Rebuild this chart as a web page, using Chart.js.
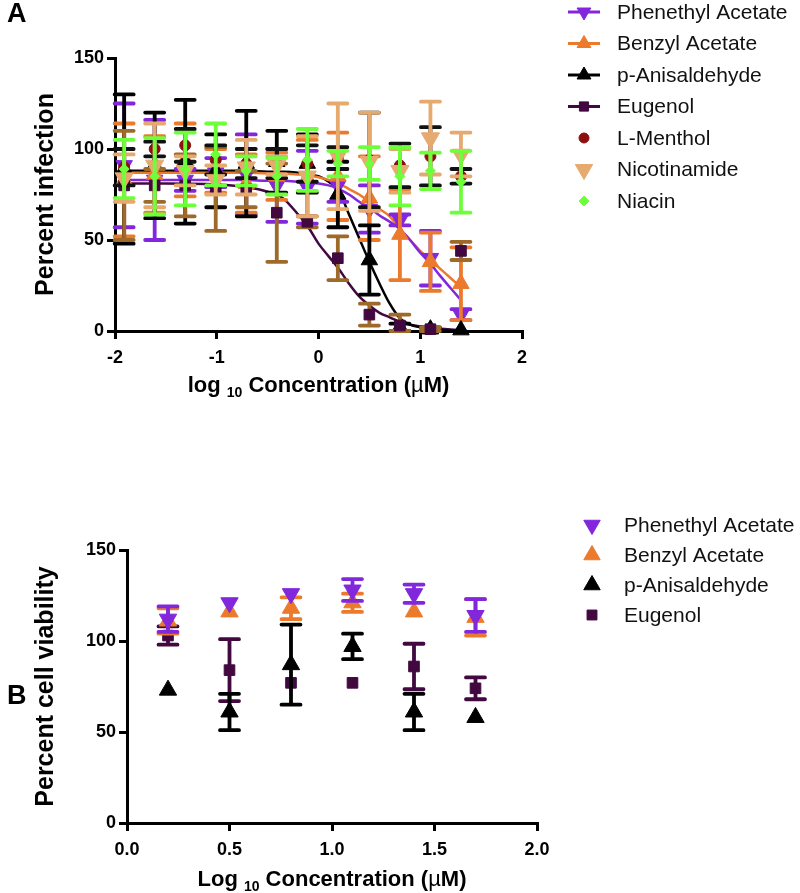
<!DOCTYPE html>
<html>
<head>
<meta charset="utf-8">
<script src="https://cdn.jsdelivr.net/npm/chart.js@4.4.1/dist/chart.umd.min.js"></script>
<style>
  html, body { margin: 0; padding: 0; background: #fff; }
  #wrap { position: relative; width: 800px; height: 893px; overflow: hidden; }
  #chartA { position: absolute; left: 0; top: 0; }
  #chartB { position: absolute; left: 0; top: 480px; }
</style>
</head>
<body>
<div id="wrap">
  <canvas id="chartA" width="800" height="400"></canvas>
  <canvas id="chartB" width="800" height="413"></canvas>
</div>
<script>
// ---- Panel A : percent infection (mean / SD) ----
const logConcA = [-1.91, -1.61, -1.31, -1.01, -0.71, -0.41, -0.11, 0.19, 0.50, 0.80, 1.10, 1.40];

const phenethylA    = [91, 83, 83, 87, 86, 80, 79, 80, 67, 61, 40, 9];
const phenethylErrA = [34, 33, 6, 8, 22, 20, 20, 9, 13, 3, 15, 3];
const benzylA       = [83, 86, 94, 88, 81, 85, 84, 85, 73, 53, 38, 26];
const benzylErrA    = [31, 21, 20, 12, 16, 13, 21, 24, 23, 25, 16, 20];
const anisA         = [89, 91, 93, 88, 92, 93, 92, 75, 39, 2, 1, 0.5];
const anisErrA      = [41, 29, 34, 20, 29, 17, 16, 18, 19, 2, 1, 0];
const eugenolA      = [80, 80, 80, 78, 78, 65, 60, 40, 9, 3, 1, 44];
const eugenolErrA   = [30, 9, 17, 23, 10, 27, 3, 12, 6, 6, 1, 5];
const mentholA      = [90, 100, 102, 94, 92, 92, 92, 95, 94, 91, 96, 85];
const mentholErrA   = [10, 4, 9, 8, 8, 8, 10, 6, 26, 12, 16, 4];
const nicotinA      = [84, 91, 88, 83, 90, 91, 85, 96, 93, 88, 106, 97];
const nicotinErrA   = [13, 23, 8, 8, 15, 5, 22, 29, 27, 12, 20, 12];
const niacinA       = [89, 85, 89, 97, 88, 85, 94, 92, 92, 85, 88, 82];
const niacinErrA    = [16, 21, 20, 17, 8, 10, 17, 7, 9, 16, 10, 17];

// fitted dose-response curves
const fitX         = [-1.91, -1.5, -1.0, -0.7, -0.5, -0.35, -0.2, -0.1, 0, 0.1, 0.2, 0.3, 0.4, 0.5, 0.6, 0.7, 0.8, 0.9, 1.0, 1.1, 1.2, 1.3, 1.4];
const phenethylFit = [83, 83, 83, 83, 82.5, 82.5, 82, 81.5, 81, 80, 78, 75, 71, 67.5, 63.5, 60, 56, 50, 43, 37, 30, 23.5, 17];
const benzylFit    = [87, 87, 87, 87, 86.5, 86.5, 86, 85.5, 84.5, 83, 81, 78, 75, 71, 67, 63, 56, 50, 44, 39, 34, 29, 24];
const anisFit      = [88, 88, 88, 88, 87.5, 87.5, 87, 86, 85, 82, 77, 64, 51, 38, 26, 15, 7, 3.5, 2, 1, 0.5, 0.2, 0.1];
const eugenolFit   = [81, 81, 80.5, 79, 76.5, 73, 64, 57, 48, 41, 34, 26, 19, 14, 10, 7.5, 5, 3.5, 2.5, 1.8, 1.2, 0.8, 0.5];

// ---- Panel B : percent cell viability ----
const logConcB      = [0.20, 0.50, 0.80, 1.10, 1.40, 1.70];
const phenethylB    = [112, 121, 126, 128, 126, 114];
const phenethylErrB = [7, 0, 0, 6, 5, 9];
const benzylB       = [111, 116, 118, 121, 116, 113];
const benzylErrB    = [7, 0, 6, 5, 0, 10];
const anisB         = [73, 61, 87, 97, 61, 58];
const anisErrB      = [0, 10, 22, 7, 10, 0];
const eugenolB      = [103, 84, 77, 77, 86, 74];
const eugenolErrB   = [5, 17, 0, 0, 12.5, 6];

const FONT = '"Liberation Sans", Arial, sans-serif';
const PURPLE = '#8227dc', ORANGE = '#ec7a2c', BLACK = '#000000', EUG = '#41093f',
      BROWN = '#9d6a2a', MENTHOL = '#8b1111', TAN = '#e6a96e', GREEN = '#6cff3a';

function pts(xs, ys, errs) {
  return xs.map((x, i) => ({ x: x, y: ys[i], err: errs ? errs[i] : 0 }));
}

function series(label, xs, ys, errs, color, errColor, style, rot, r, legendR, hasFit) {
  return {
    label: label,
    data: pts(xs, ys, errs),
    pointStyle: style,
    rotation: rot,
    pointRadius: r,
    pointBackgroundColor: color,
    pointBorderColor: color,
    pointBorderWidth: 1,
    showLine: false,
    clip: false,
    errorColor: errColor,
    legendRadius: legendR,
    hasFit: hasFit
  };
}

function fitLine(color, ys) {
  return {
    isFit: true,
    data: pts(fitX, ys),
    showLine: true,
    pointRadius: 0,
    borderColor: color,
    borderWidth: 2.5,
    cubicInterpolationMode: 'monotone',
    order: 20
  };
}

// error bars, drawn just before each dataset's markers
const errorBars = {
  id: 'errorBars',
  beforeDatasetDraw(chart, args) {
    const ds = chart.data.datasets[args.index];
    if (!ds.errorColor) return;
    const ys = chart.scales.y;
    const ctx = chart.ctx;
    ctx.save();
    ctx.strokeStyle = ds.errorColor;
    ctx.lineWidth = 3.8;
    ctx.lineCap = 'round';
    args.meta.data.forEach((p, i) => {
      const d = ds.data[i];
      if (!d.err) return;
      const top = ys.getPixelForValue(d.y + d.err);
      const bot = ys.getPixelForValue(Math.max(d.y - d.err, 0));
      const cap = 9.5;
      ctx.beginPath();
      ctx.moveTo(p.x, top); ctx.lineTo(p.x, bot);
      ctx.moveTo(p.x - cap, top); ctx.lineTo(p.x + cap, top);
      ctx.moveTo(p.x - cap, bot); ctx.lineTo(p.x + cap, bot);
      ctx.stroke();
    });
    ctx.restore();
  }
};

// panel letter, x title with subscript, legend
const decorations = {
  id: 'decorations',
  afterDraw(chart, args, o) {
    const ctx = chart.ctx;
    const area = chart.chartArea;
    ctx.save();
    ctx.fillStyle = '#000';
    ctx.textBaseline = 'middle';
    ctx.textAlign = 'left';
    ctx.font = 'bold 27px ' + FONT;
    ctx.fillText(o.letter, 7, o.letterY);

    // x axis title: "log 10 Concentration (µM)" with subscript
    const parts = [
      [o.logWord + ' ', 'bold 22px ' + FONT, 0],
      ['10', 'bold 14px ' + FONT, 7],
      [' Concentration (', 'bold 22px ' + FONT, 0],
      ['\u00b5', '22px ' + FONT, 0],
      ['M)', 'bold 22px ' + FONT, 0]
    ];
    let w = 0;
    parts.forEach(p => { ctx.font = p[1]; w += ctx.measureText(p[0]).width; });
    let x = (area.left + area.right) / 2 - w / 2;
    parts.forEach(p => {
      ctx.font = p[1];
      ctx.fillText(p[0], x, o.titleY + p[2]);
      x += ctx.measureText(p[0]).width;
    });

    // legend
    const items = chart.data.datasets.filter(d => !d.isFit);
    items.forEach((d, i) => {
      const y = o.legendTop + i * o.legendStep;
      if (d.hasFit) {
        ctx.strokeStyle = d.pointBackgroundColor;
        ctx.lineWidth = 3;
        ctx.beginPath();
        ctx.moveTo(o.legendX - 16, y);
        ctx.lineTo(o.legendX + 16, y);
        ctx.stroke();
      }
      ctx.fillStyle = d.pointBackgroundColor;
      ctx.strokeStyle = d.pointBorderColor;
      ctx.lineWidth = 1;
      Chart.helpers.drawPoint(ctx, {
        pointStyle: d.pointStyle, rotation: d.rotation || 0,
        radius: d.legendRadius, borderWidth: 1
      }, o.legendX, y);
      ctx.fillStyle = '#111';
      ctx.font = '21px ' + FONT;
      ctx.fillText(d.label, o.textX, y + 1);
    });
    ctx.restore();
  }
};

function axes(xMin, xMax, xStep, xFmt, yTitle, yWidth, xHeight) {
  const tickFont = { family: FONT, size: 18, weight: 'bold' };
  const grid = { drawOnChartArea: false, drawTicks: true, tickLength: 8, lineWidth: 3, color: '#000' };
  const border = { display: true, color: '#000', width: 3 };
  return {
    x: {
      type: 'linear', min: xMin, max: xMax,
      ticks: { stepSize: xStep, color: '#000', font: tickFont, padding: 8, callback: xFmt, maxRotation: 0 },
      grid: grid, border: border,
      afterFit(s) { s.height = xHeight; }
    },
    y: {
      type: 'linear', min: 0, max: 150,
      ticks: { stepSize: 50, color: '#000', font: tickFont, padding: 3 },
      grid: grid, border: border,
      title: { display: true, text: yTitle, color: '#000', font: { family: FONT, size: 25, weight: 'bold' }, padding: { top: 31, bottom: 0 } },
      afterFit(s) { s.width = yWidth; }
    }
  };
}

// ---- chart A ----
const dsA = [
  series('Phenethyl Acetate', logConcA, phenethylA, phenethylErrA, PURPLE, PURPLE, 'triangle', 180, 9.5, 8, true),
  series('Benzyl Acetate', logConcA, benzylA, benzylErrA, ORANGE, ORANGE, 'triangle', 0, 9.5, 8, true),
  series('p-Anisaldehyde', logConcA, anisA, anisErrA, BLACK, BLACK, 'triangle', 0, 9.5, 8, true),
  series('Eugenol', logConcA, eugenolA, eugenolErrA, EUG, BROWN, 'rect', 0, 7.5, 6.5, true),
  series('L-Menthol', logConcA, mentholA, mentholErrA, MENTHOL, '#111', 'circle', 0, 5.5, 5, false),
  series('Nicotinamide', logConcA, nicotinA, nicotinErrA, TAN, TAN, 'triangle', 180, 10.5, 10, false),
  series('Niacin', logConcA, niacinA, niacinErrA, GREEN, GREEN, 'rectRot', 0, 5, 5, false)
];
dsA.forEach((d, i) => { d.order = dsA.length - i; });
dsA.push(fitLine(PURPLE, phenethylFit), fitLine(ORANGE, benzylFit), fitLine(BLACK, anisFit), fitLine(EUG, eugenolFit));

new Chart(document.getElementById('chartA'), {
  type: 'scatter',
  data: { datasets: dsA },
  options: {
    responsive: false,
    animation: false,
    layout: { padding: { left: 0, right: 278, top: 58, bottom: 0 } },
    plugins: {
      legend: { display: false },
      tooltip: { enabled: false },
      decorations: { letter: 'A', letterY: 15, logWord: 'log', titleY: 386, legendTop: 12, legendStep: 31.5, legendX: 584, textX: 617 }
    },
    scales: axes(-2, 2, 1, v => String(v), 'Percent infection', 115, 69)
  },
  plugins: [errorBars, decorations]
});

// ---- chart B ----
const dsB = [
  series('Phenethyl Acetate', logConcB, phenethylB, phenethylErrB, PURPLE, PURPLE, 'triangle', 180, 10, 9.5, false),
  series('Benzyl Acetate', logConcB, benzylB, benzylErrB, ORANGE, ORANGE, 'triangle', 0, 10, 9.5, false),
  series('p-Anisaldehyde', logConcB, anisB, anisErrB, BLACK, BLACK, 'triangle', 0, 10, 9.5, false),
  series('Eugenol', logConcB, eugenolB, eugenolErrB, EUG, EUG, 'rect', 0, 7.5, 7, false)
];

new Chart(document.getElementById('chartB'), {
  type: 'scatter',
  data: { datasets: dsB },
  options: {
    responsive: false,
    animation: false,
    layout: { padding: { left: 0, right: 263, top: 70, bottom: 0 } },
    plugins: {
      legend: { display: false },
      tooltip: { enabled: false },
      decorations: { letter: 'B', letterY: 217, logWord: 'Log', titleY: 400, legendTop: 45, legendStep: 30, legendX: 592, textX: 624 }
    },
    scales: axes(0, 2, 0.5, v => v.toFixed(1), 'Percent cell viability', 127, 70)
  },
  plugins: [errorBars, decorations]
});
</script>
</body>
</html>
